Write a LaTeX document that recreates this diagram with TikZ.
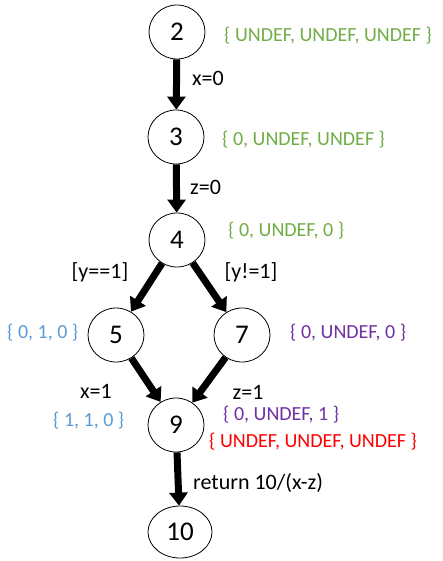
\documentclass[tikz,border=0pt]{standalone}
\usepackage{fontspec}
\setmainfont{Carlito}
\usetikzlibrary{arrows.meta,shapes.geometric}
\definecolor{setgreen}{HTML}{70AD47}
\definecolor{setblue}{HTML}{5B9BD5}
\definecolor{setpurple}{HTML}{7030A0}
\definecolor{setred}{HTML}{FF0000}
\begin{document}
\begin{tikzpicture}[x=1pt,y=-1pt,
  state/.style={draw=black,line width=0.8pt,ellipse,minimum width=56pt,minimum height=54pt,inner sep=0pt,font=\fontsize{27}{29}\selectfont},
  flow/.style={line width=7pt,black,-{Triangle[width=18pt,length=13pt]}},
  elabel/.style={font=\fontsize{22}{24}\selectfont,anchor=west,inner sep=0pt},
  setlabel/.style={font=\fontsize{20}{22}\selectfont,anchor=west,inner sep=0pt}]
\useasboundingbox (0,0) rectangle (443,561);
\node[state] (n2) at (177,32) {2};
\node[state] (n3) at (176,137) {3};
\node[state] (n4) at (177,240) {4};
\node[state] (n5) at (116,335) {5};
\node[state] (n7) at (242,335) {7};
\node[state] (n9) at (176,425) {9};
\node[state,minimum width=64pt,minimum height=52pt] (n10) at (180,532) {10};
\draw[flow] (n2) -- (n3);
\draw[flow] (n3) -- (n4);
\draw[flow] (n4) -- (n5);
\draw[flow] (n4) -- (n7);
\draw[flow] (n5) -- (n9);
\draw[flow] (n7) -- (n9);
\draw[flow] (n9) -- (n10);
\node[elabel] (lx0) at (192,78) {x=0};
\node[elabel] (lz0) at (190,187) {z=0};
\node[elabel,anchor=center] (ly1) at (100,272) {[y==1]};
\node[elabel,anchor=center] (lyn1) at (251,272) {[y!=1]};
\node[elabel,anchor=center] (lx1) at (96,391) {x=1};
\node[elabel,anchor=center] (lz1) at (248,392) {z=1};
\node[elabel] (lret) at (193,483) {return 10/(x-z)};
\node[setlabel,text=setgreen] (s2) at (224,36) {\{ UNDEF, UNDEF, UNDEF \}};
\node[setlabel,text=setgreen] (s3) at (222,140) {\{ 0, UNDEF, UNDEF \}};
\node[setlabel,text=setgreen] (s4) at (228,231) {\{ 0, UNDEF, 0 \}};
\node[setlabel,text=setblue] (s5) at (7,333) {\{ 0, 1, 0 \}};
\node[setlabel,text=setpurple] (s7) at (290,333) {\{ 0, UNDEF, 0 \}};
\node[setlabel,text=setblue] (s9a) at (53,421) {\{ 1, 1, 0 \}};
\node[setlabel,text=setpurple] (s9b) at (223,415) {\{ 0, UNDEF, 1 \}};
\node[setlabel,text=setred] (s9c) at (209,442) {\{ UNDEF, UNDEF, UNDEF \}};
\end{tikzpicture}
\end{document}
